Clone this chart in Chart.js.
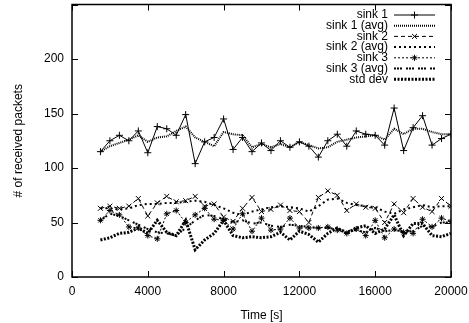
<!DOCTYPE html>
<html>
<head>
<meta charset="utf-8">
<script src="https://cdn.jsdelivr.net/npm/chart.js@4/dist/chart.umd.min.js"></script>
<style>
    html, body { margin: 0; padding: 0; background: #fff; }
    #wrap { width: 469px; height: 323px; position: relative; }
</style>
</head>
<body>
<div id="wrap"><canvas id="packetsChart"></canvas></div>
<script>
// Data
const times = [1500, 2000, 2500, 3000, 3500, 4000, 4500, 5000, 5500, 6000,
    6500, 7000, 7500, 8000, 8500, 9000, 9500, 10000, 10500, 11000,
    11500, 12000, 12500, 13000, 13500, 14000, 14500, 15000, 15500, 16000,
    16500, 17000, 17500, 18000, 18500, 19000, 19500, 20000];

const sink1 = [115, 125, 130, 125, 134, 114, 138, 136, 130, 149,
    104, 124, 128, 145, 117, 128, 115, 123, 116, 125,
    119, 124, 120, 110, 125, 131, 120, 134, 131, 130,
    121, 155, 116, 137, 148, 121, 127, 131];
const sink1Avg = [115, 120, 123, 126, 130, 124, 128, 129, 134, 138,
    128, 124, 120, 133, 131, 130, 119, 122, 119, 122,
    119, 124, 121, 118, 119, 124, 126, 128, 129, 130,
    126, 136, 131, 136, 136, 133, 131, 131];
const sink2 = [63, 65, 63, 65, 72, 56, 68, 74, 69, 70,
    74, 65, 67, 55, 51, 63, 73, 60, 62, 66,
    61, 60, 50, 73, 79, 75, 61, 67, 64, 63,
    50, 67, 59, 72, 64, 60, 72, 65];
const sink2Avg = [63, 63, 62, 63, 66, 67, 67, 68, 68, 69,
    70, 69, 66, 63, 59, 57, 60, 62, 64, 65,
    64, 63, 60, 65, 71, 72, 68, 66, 65, 64,
    60, 58, 62, 64, 66, 64, 65, 65];
const sink3 = [52, 61, 57, 46, 45, 38, 35, 58, 61, 50,
    57, 63, 53, 52, 44, 58, 42, 54, 43, 44,
    54, 45, 45, 45, 46, 43, 40, 44, 38, 52,
    36, 44, 41, 40, 53, 46, 54, 51];
const sink3Avg = [52, 58, 56, 52, 48, 44, 41, 40, 38, 45,
    52, 57, 56, 53, 50, 52, 49, 50, 47, 46,
    48, 47, 46, 45, 45, 44, 42, 43, 41, 45,
    42, 43, 42, 42, 47, 46, 50, 50];
const stdDev = [34, 36, 40, 41, 45, 40, 52, 41, 38, 52,
    25, 34, 40, 52, 38, 36, 37, 36, 37, 41,
    34, 42, 39, 32, 40, 45, 40, 45, 47, 40,
    44, 57, 38, 49, 49, 38, 37, 40];

const xTicks = [0, 4000, 8000, 12000, 16000, 20000];
const yTicks = [0, 50, 100, 150, 200];

const FONT = 'Liberation Sans, Arial, Helvetica, sans-serif';

function toPoints(values) {
    return values.map((v, i) => ({ x: times[i], y: v }));
}

function series(label, values, style) {
    return Object.assign({
        label: label,
        data: toPoints(values),
        borderColor: '#000',
        backgroundColor: '#000',
        pointBorderColor: '#000',
        borderWidth: 1,
        pointRadius: 0,
        pointHoverRadius: 0,
        pointBorderWidth: 1,
        tension: 0,
        fill: false
    }, style);
}

const datasets = [
    series('sink 1', sink1, { pointStyle: 'cross', pointRadius: 3.5 }),
    series('sink 1 (avg)', sink1Avg, { borderWidth: 2, borderDash: [1, 1] }),
    series('sink 2', sink2, { borderDash: [4, 3], pointStyle: 'crossRot', pointRadius: 3.5 }),
    series('sink 2 (avg)', sink2Avg, { borderWidth: 2, borderDash: [2, 3] }),
    series('sink 3', sink3, { borderDash: [2, 2], pointStyle: 'star', pointRadius: 3, pointBorderWidth: 1 }),
    series('sink 3 (avg)', sink3Avg, { borderWidth: 2, borderDash: [2, 1, 2, 1, 2, 4] }),
    series('std dev', stdDev, { borderWidth: 3, borderDash: [2, 1.5] })
];

// Frame, inward ticks on all four sides, and gnuplot style key
const gnuplotFrame = {
    id: 'gnuplotFrame',
    afterDatasetsDraw(chart) {
        const ctx = chart.ctx;
        const area = chart.chartArea;
        const xs = chart.scales.x;
        const ys = chart.scales.y;
        ctx.save();
        ctx.strokeStyle = '#000';
        ctx.lineWidth = 1;
        ctx.setLineDash([]);
        ctx.beginPath();
        xTicks.forEach(t => {
            const px = Math.round(xs.getPixelForValue(t)) + 0.5;
            ctx.moveTo(px, area.bottom); ctx.lineTo(px, area.bottom - 6);
            ctx.moveTo(px, area.top); ctx.lineTo(px, area.top + 6);
        });
        yTicks.concat([250]).forEach(t => {
            const py = Math.round(ys.getPixelForValue(t)) + 0.5;
            ctx.moveTo(area.left, py); ctx.lineTo(area.left + 6, py);
            ctx.moveTo(area.right, py); ctx.lineTo(area.right - 6, py);
        });
        ctx.stroke();
        ctx.lineWidth = 1.5;
        ctx.strokeRect(area.left, area.top, area.right - area.left, area.bottom - area.top);

        // key
        ctx.font = '12px ' + FONT;
        ctx.fillStyle = '#000';
        ctx.textAlign = 'right';
        ctx.textBaseline = 'middle';
        chart.data.datasets.forEach((ds, i) => {
            const y = 15 + i * 10.7;
            ctx.fillText(ds.label, 388, y);
            ctx.save();
            ctx.strokeStyle = '#000';
            ctx.lineWidth = ds.borderWidth;
            ctx.setLineDash(ds.borderDash || []);
            ctx.beginPath();
            ctx.moveTo(394, y);
            ctx.lineTo(435, y);
            ctx.stroke();
            ctx.restore();
            if (ds.pointRadius > 0) {
                ctx.save();
                ctx.strokeStyle = '#000';
                ctx.fillStyle = '#000';
                ctx.lineWidth = ds.pointBorderWidth;
                Chart.helpers.drawPoint(ctx, {
                    pointStyle: ds.pointStyle,
                    radius: ds.pointRadius,
                    borderWidth: ds.pointBorderWidth,
                    rotation: 0
                }, 414.5, y);
                ctx.restore();
            }
        });
        ctx.restore();
    }
};

const ctx = document.getElementById('packetsChart').getContext('2d');
const packetsChart = new Chart(ctx, {
    type: 'line',
    data: { datasets: datasets },
    options: {
        responsive: true,
        maintainAspectRatio: false,
        animation: false,
        events: [],
        layout: { padding: { top: 4, right: 18, left: 0, bottom: 0 } },
        plugins: {
            legend: { display: false },
            tooltip: { enabled: false }
        },
        scales: {
            x: {
                type: 'linear',
                min: 0,
                max: 20000,
                afterBuildTicks: scale => {
                    scale.ticks = xTicks.map(v => ({ value: v }));
                },
                afterFit: scale => {
                    scale.height = 46;
                    scale.paddingLeft = 0;
                    scale.paddingRight = 0;
                },
                grid: { display: false, drawTicks: false },
                border: { display: false },
                ticks: {
                    color: '#000',
                    padding: 7,
                    maxRotation: 0,
                    autoSkip: false,
                    callback: value => String(value),
                    font: { family: FONT, size: 12 }
                },
                title: {
                    display: true,
                    text: 'Time [s]',
                    color: '#000',
                    padding: { top: 10, bottom: 0 },
                    font: { family: FONT, size: 12 }
                }
            },
            y: {
                type: 'linear',
                min: 0,
                max: 250,
                afterBuildTicks: scale => {
                    scale.ticks = yTicks.map(v => ({ value: v }));
                },
                afterFit: scale => {
                    scale.width = 72;
                    scale.paddingTop = 0;
                    scale.paddingBottom = 0;
                },
                grid: { display: false, drawTicks: false },
                border: { display: false },
                ticks: {
                    color: '#000',
                    padding: 8,
                    autoSkip: false,
                    callback: value => String(value),
                    font: { family: FONT, size: 12 }
                },
                title: {
                    display: true,
                    text: '# of received packets',
                    color: '#000',
                    padding: { top: 11, bottom: 0 },
                    font: { family: FONT, size: 12 }
                }
            }
        }
    },
    plugins: [gnuplotFrame]
});
</script>
</body>
</html>
